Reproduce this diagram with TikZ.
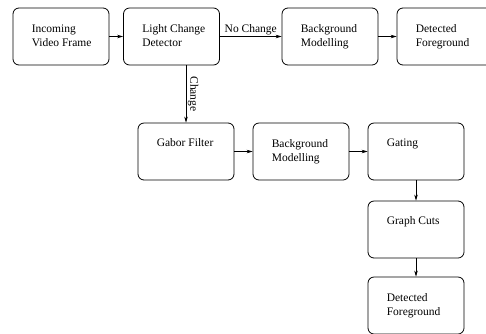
\documentclass[tikz,border=0pt]{standalone}
\usepackage{fontspec}
\setmainfont{Liberation Serif}
\usetikzlibrary{arrows.meta,calc}
\begin{document}
\begin{tikzpicture}[x=1pt,y=-1pt,
  box/.style={draw, line width=0.8pt, rounded corners=6pt, minimum width=96pt, minimum height=57pt, inner sep=0pt},
  txt/.style={anchor=base west, align=left, inner sep=0pt, font=\fontsize{11.5}{14}\selectfont},
  lbl/.style={font=\fontsize{11.5}{14}\selectfont, inner sep=1.5pt},
  arr/.style={line width=0.6pt, -{Stealth[length=6pt,width=3.5pt]}}
]
\useasboundingbox (0,0) rectangle (486,333);
\clip (0,0) rectangle (486,333);
\node[box] (in) at (61,36.5) {};
\node[box] (lcd) at (171.5,36.5) {};
\node[box] (bm1) at (330,36.5) {};
\node[box] (df1) at (445,36.5) {};
\node[box] (gab) at (186,151.5) {};
\node[box] (bm2) at (301,151.5) {};
\node[box] (gat) at (416,151.5) {};
\node[box] (gc) at (416,229.5) {};
\node[box] (df2) at (416,305.5) {};
\node[txt] (tin) at ($(in.north west)+(19,39)$) {Incoming\\Video Frame};
\node[txt] (tlcd) at ($(lcd.north west)+(19,39)$) {Light Change\\Detector};
\node[txt] (tbm1) at ($(bm1.north west)+(19,39)$) {Background\\Modelling};
\node[txt] (tdf1) at ($(df1.north west)+(19,39)$) {Detected\\Foreground};
\node[txt] (tgab) at ($(gab.north west)+(19,24)$) {Gabor Filter};
\node[txt] (tbm2) at ($(bm2.north west)+(19,38.5)$) {Background\\Modelling};
\node[txt] (tgat) at ($(gat.north west)+(19,24)$) {Gating};
\node[txt] (tgc) at ($(gc.north west)+(19,24)$) {Graph Cuts};
\node[txt] (tdf2) at ($(df2.north west)+(19,39)$) {Detected\\Foreground};
\draw[arr] (in) -- (lcd);
\draw[arr] (lcd) -- node[lbl, midway, above] {No Change} (bm1);
\draw[arr] (bm1) -- (df1);
\draw[arr] (lcd.south -| gab.north) -- node[lbl, midway, rotate=-90, anchor=south] {Change} (gab.north);
\draw[arr] (gab) -- (bm2);
\draw[arr] (bm2) -- (gat);
\draw[arr] (gat) -- (gc);
\draw[arr] (gc) -- (df2);
\end{tikzpicture}
\end{document}
